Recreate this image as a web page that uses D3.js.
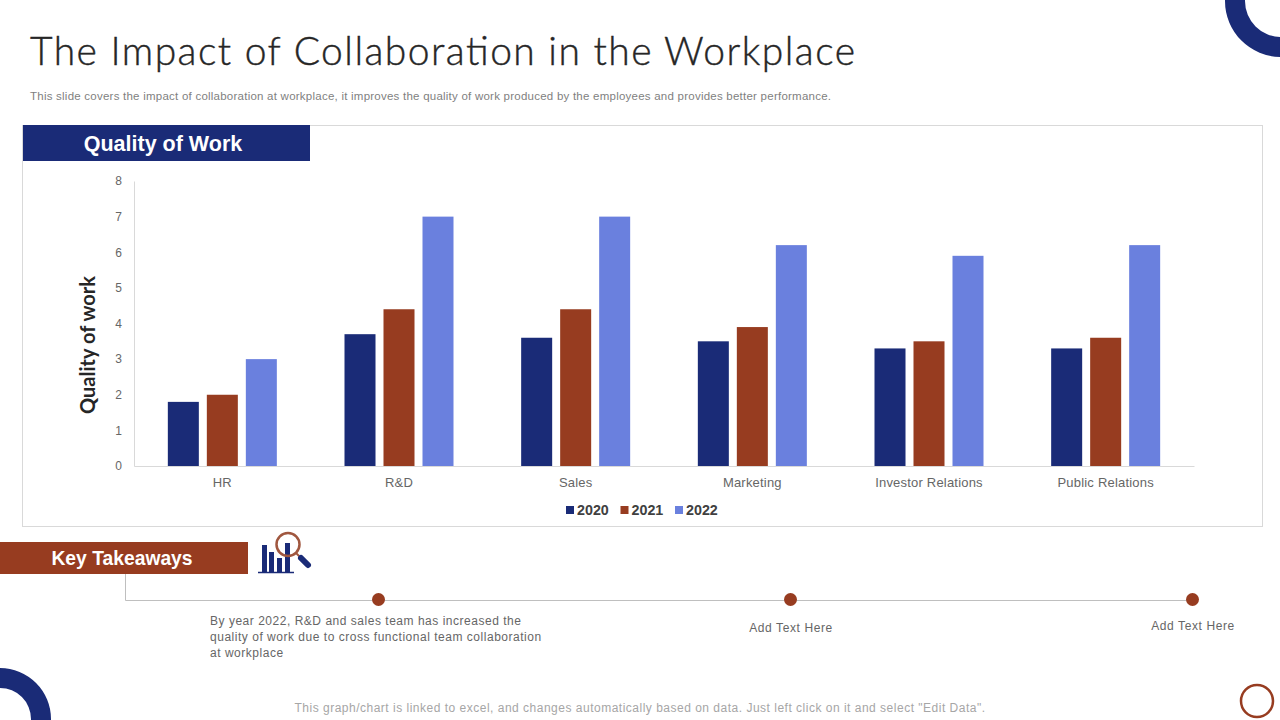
<!DOCTYPE html>
<html>
<head>
<meta charset="utf-8">
<script src="https://cdn.jsdelivr.net/npm/d3@7"></script>
<style>
  html, body { margin: 0; padding: 0; background: #fff; }
  svg { display: block; }
  text { font-family: "Liberation Sans", Arial, sans-serif; }
</style>
</head>
<body>
<div id="slide"></div>
<script>
// Chart data
var categories = ["HR", "R&D", "Sales", "Marketing", "Investor Relations", "Public Relations"];
var years = ["2020", "2021", "2022"];
var values2020 = [1.8, 3.7, 3.6, 3.5, 3.3, 3.3];
var values2021 = [2, 4.4, 4.4, 3.9, 3.5, 3.6];
var values2022 = [3, 7, 7, 6.2, 5.9, 6.2];
var yTicks = [0, 1, 2, 3, 4, 5, 6, 7, 8];
var seriesValues = [values2020, values2021, values2022];

var navy = "#1a2b77";
var rust = "#973c20";
var blue = "#6a80de";
var colors = d3.scaleOrdinal().domain(years).range([navy, rust, blue]);

var svg = d3.select("#slide").append("svg")
    .attr("width", 1280)
    .attr("height", 720);

// Corner decoration
var ring = d3.arc().startAngle(0).endAngle(2 * Math.PI);
svg.append("path")
    .attr("d", ring({innerRadius: 36, outerRadius: 56}))
    .attr("transform", "translate(1281,1)")
    .attr("fill", navy);
svg.append("path")
    .attr("d", ring({innerRadius: 31, outerRadius: 51}))
    .attr("transform", "translate(0,719)")
    .attr("fill", navy);
svg.append("circle")
    .attr("cx", 1257).attr("cy", 701).attr("r", 16)
    .attr("fill", "none")
    .attr("stroke", rust)
    .attr("stroke-width", 2.5);

// Title and subtitle
svg.append("text")
    .attr("x", 30).attr("y", 65)
    .attr("font-size", 39)
    .attr("font-weight", 300)
    .style("font-family", "Lato, sans-serif")
    .attr("textLength", 825)
    .attr("fill", "#262626")
    .attr("stroke", "#262626")
    .attr("stroke-width", 0.4)
    .text("The Impact of Collaboration in the Workplace");
svg.append("text")
    .attr("x", 30).attr("y", 100)
    .attr("font-size", 11.5)
    .attr("textLength", 801)
    .attr("fill", "#7f7f7f")
    .text("This slide covers the impact of collaboration at workplace, it improves the quality of work produced by the employees and provides better performance.");

// Chart panel
svg.append("rect")
    .attr("x", 22.5).attr("y", 125.5)
    .attr("width", 1240).attr("height", 401)
    .attr("fill", "none")
    .attr("stroke", "#d9d9d9");
svg.append("rect")
    .attr("x", 23).attr("y", 125)
    .attr("width", 287).attr("height", 36)
    .attr("fill", navy);
svg.append("text")
    .attr("x", 163).attr("y", 151)
    .attr("text-anchor", "middle")
    .attr("font-size", 21.5)
    .attr("font-weight", "bold")
    .attr("fill", "#fff")
    .text("Quality of Work");

// Scales
var x0 = d3.scaleBand().domain(categories).range([134, 1194]).paddingInner(0.383).paddingOuter(0.1915);
var x1 = d3.scaleBand().domain(years).range([0, x0.bandwidth()]).paddingInner(0.205);
var y = d3.scaleLinear().domain([0, 8]).range([466, 181]);

// Bars
var groups = svg.selectAll(".series")
    .data(years)
    .enter().append("g")
    .attr("class", "series");
groups.selectAll("rect")
    .data(function(d, i) {
        return categories.map(function(c, j) {
            return {category: c, year: d, value: seriesValues[i][j]};
        });
    })
    .enter().append("rect")
    .attr("x", function(d) { return x0(d.category) + x1(d.year); })
    .attr("y", function(d) { return y(d.value); })
    .attr("width", x1.bandwidth())
    .attr("height", function(d) { return y(0) - y(d.value); })
    .attr("fill", function(d) { return colors(d.year); });

// Axes
var xAxis = svg.append("g")
    .attr("transform", "translate(0,466)")
    .call(d3.axisBottom(x0).tickSize(0).tickPadding(12));
var yAxis = svg.append("g")
    .attr("transform", "translate(134,0)")
    .call(d3.axisLeft(y).tickValues(yTicks).tickSize(0).tickPadding(12));
xAxis.select(".domain").attr("stroke", "#d9d9d9");
yAxis.select(".domain").attr("stroke", "#d9d9d9");
xAxis.selectAll("text")
    .attr("font-size", 13)
    .attr("fill", "#666666")
    .style("letter-spacing", "0.2px")
    .style("font-family", "Liberation Sans");
yAxis.selectAll("text")
    .attr("font-size", 12)
    .attr("fill", "#666666")
    .style("font-family", "Liberation Sans");

svg.append("text")
    .attr("transform", "translate(95,345) rotate(-90)")
    .attr("text-anchor", "middle")
    .attr("font-size", 20)
    .attr("font-weight", 700)
    .style("font-family", "Lato, sans-serif")
    .attr("fill", "#262626")
    .text("Quality of work");

// Legend
var legendX = d3.scalePoint().domain(years).range([566, 675]);
var legend = svg.selectAll(".legend")
    .data(years)
    .enter().append("g")
    .attr("class", "legend")
    .attr("transform", function(d) { return "translate(" + legendX(d) + ",506)"; });
legend.append("rect")
    .attr("width", 8).attr("height", 8)
    .attr("fill", function(d) { return colors(d); });
legend.append("text")
    .attr("x", 11).attr("y", 9)
    .attr("font-size", 14.3)
    .attr("font-weight", "bold")
    .attr("fill", "#404040")
    .text(function(d) { return d; });

// Key takeaways banner
svg.append("rect")
    .attr("x", 0).attr("y", 542)
    .attr("width", 248).attr("height", 32)
    .attr("fill", rust);
svg.append("text")
    .attr("x", 122).attr("y", 565)
    .attr("text-anchor", "middle")
    .attr("font-size", 19.3)
    .attr("font-weight", "bold")
    .attr("fill", "#fff")
    .text("Key Takeaways");

// Icon next to banner
var icon = svg.append("g");
var iconBars = [[262, 545, 5, 27], [269, 552, 5, 20], [277, 558, 5, 14], [285, 543, 5, 29]];
icon.selectAll("rect")
    .data(iconBars)
    .enter().append("rect")
    .attr("x", function(d) { return d[0]; })
    .attr("y", function(d) { return d[1]; })
    .attr("width", function(d) { return d[2]; })
    .attr("height", function(d) { return d[3]; })
    .attr("fill", navy);
icon.append("line")
    .attr("x1", 258).attr("x2", 294).attr("y1", 572.5).attr("y2", 572.5)
    .attr("stroke", navy).attr("stroke-width", 1.5);
icon.append("circle")
    .attr("cx", 288).attr("cy", 544.5).attr("r", 11.5)
    .attr("fill", "none").attr("stroke", "#a0573f").attr("stroke-width", 2.5);
icon.append("line")
    .attr("x1", 296).attr("y1", 553).attr("x2", 300).attr("y2", 557)
    .attr("stroke", "#a0573f").attr("stroke-width", 2);
icon.append("line")
    .attr("x1", 301).attr("y1", 558).attr("x2", 308).attr("y2", 565)
    .attr("stroke", navy).attr("stroke-width", 6).attr("stroke-linecap", "round");

// Timeline
svg.append("path")
    .attr("d", "M125.5,574V600.5H1192")
    .attr("fill", "none")
    .attr("stroke", "#bfbfbf");
var dotX = [378.5, 790.5, 1192.5];
svg.selectAll(".dot")
    .data(dotX)
    .enter().append("circle")
    .attr("class", "dot")
    .attr("cx", function(d) { return d; })
    .attr("cy", 599.5)
    .attr("r", 6.5)
    .attr("fill", rust);

var takeawayLines = [
    "By year 2022, R&D and sales team has increased the",
    "quality of work due to cross functional team collaboration",
    "at workplace"
];
svg.selectAll(".takeaway")
    .data(takeawayLines)
    .enter().append("text")
    .attr("class", "takeaway")
    .attr("x", 210)
    .attr("y", function(d, i) { return 625 + i * 16; })
    .attr("font-size", 12)
    .attr("fill", "#666666")
    .style("letter-spacing", "0.52px")
    .text(function(d) { return d; });
svg.append("text")
    .attr("x", 791).attr("y", 632)
    .attr("text-anchor", "middle")
    .attr("font-size", 12)
    .attr("fill", "#666666")
    .style("letter-spacing", "0.6px")
    .text("Add Text Here");
svg.append("text")
    .attr("x", 1193).attr("y", 630)
    .attr("text-anchor", "middle")
    .attr("font-size", 12)
    .attr("fill", "#666666")
    .style("letter-spacing", "0.6px")
    .text("Add Text Here");

// Footer note
svg.append("text")
    .attr("x", 640).attr("y", 712)
    .attr("text-anchor", "middle")
    .attr("font-size", 12)
    .attr("fill", "#a6a6a6")
    .style("letter-spacing", "0.5px")
    .text("This graph/chart is linked to excel, and changes automatically based on data. Just left click on it and select \"Edit Data\".");
</script>
</body>
</html>
